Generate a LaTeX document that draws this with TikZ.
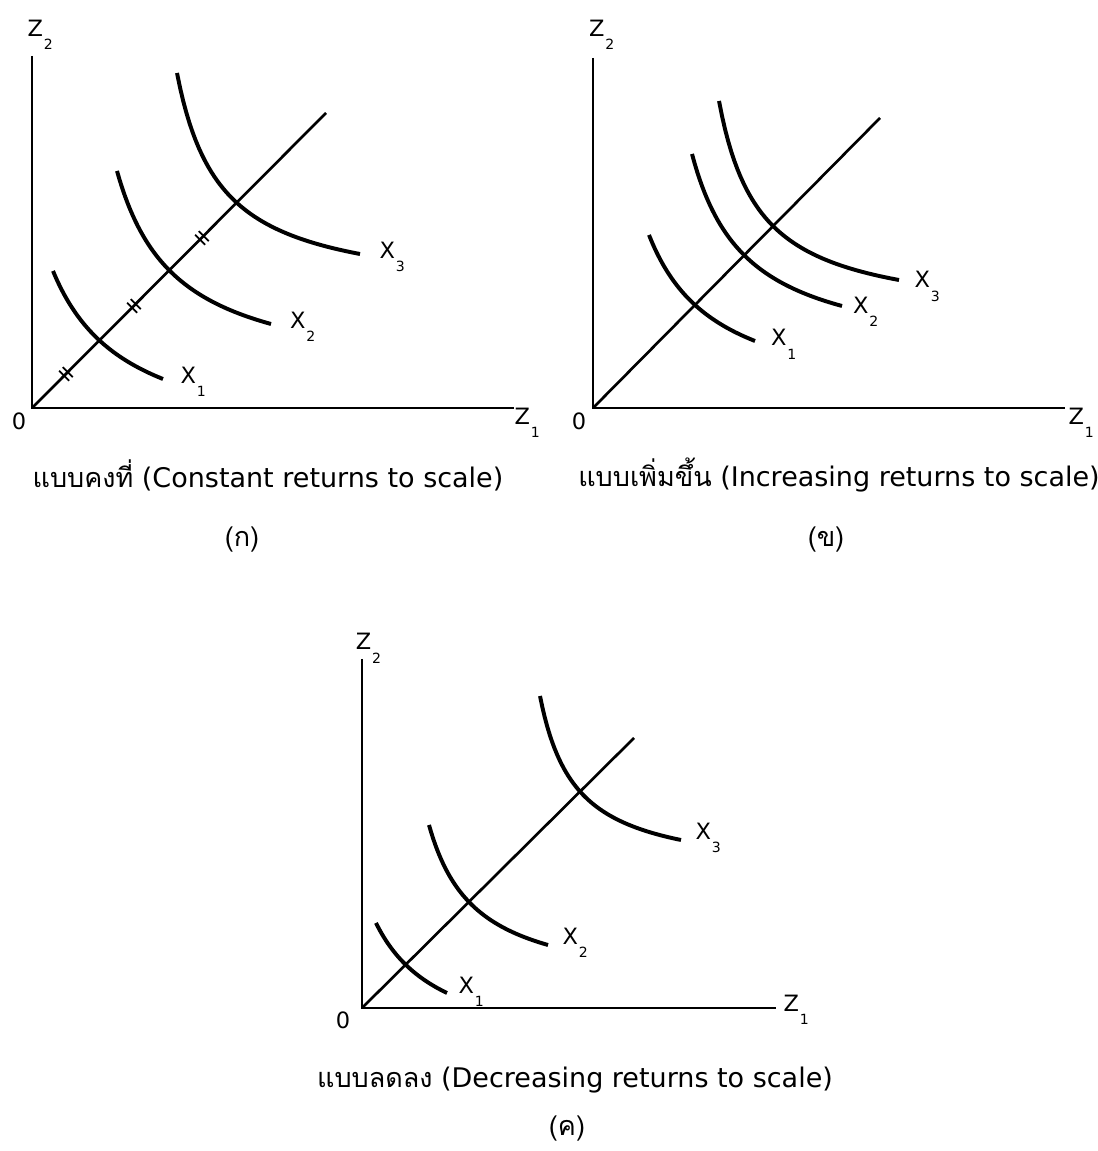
\documentclass[tikz,border=0pt]{standalone}
\usepackage{fontspec}
\setmainfont{DejaVu Sans}
\newfontfamily\thaifont[Script=Thai]{Loma}
\newcommand\lsub[1]{\hspace{0.6pt}\raisebox{-9.5pt}{\fontsize{10}{11}\selectfont #1}}
\begin{document}
\begin{tikzpicture}[x=0.25mm,y=0.25mm,
  declare function={iq(\x,\p,\q,\k)=\q+\k/((\x-\p)/100);},
  axis/.style={line width=1.3pt},
  ray/.style={line width=1.9pt},
  isoq/.style={line width=2.8pt,samples=60},
  hatch/.style={line width=1.2pt},
  lbl/.style={anchor=base west,inner sep=0pt,font=\fontsize{16}{18}\selectfont},
  zero/.style={inner sep=0pt,font=\fontsize{16}{18}\selectfont},
  captxt/.style={inner sep=0pt,font=\fontsize{19.2}{23}\selectfont}]
\useasboundingbox (0,0) rectangle (1098,1151);
% (ก) constant returns
\begin{scope}[shift={(32,743)}]
\coordinate (oa) at (0,0);
\draw[axis] (0,352) -- (oa) -- (482,0);
\coordinate (ra) at (294,295);
\draw[ray] (oa) -- (ra);
\foreach \t in {34,102,170}
  \draw[hatch] (\t-6.8,\t+3.2) -- (\t+3.2,\t-6.8) (\t-3.2,\t+6.8) -- (\t+6.8,\t-3.2);
\draw[isoq] plot[domain=21:131] (\x,{iq(\x,-54.26,-44.9,136.9)});
\draw[isoq] plot[domain=85:239] (\x,{iq(\x,25.74,25.12,125.56)});
\draw[isoq] plot[domain=145:328] (\x,{iq(\x,101.69,111.16,96.945)});
\node[lbl] (xa1) at (148.3,24.8) {X\lsub{1}};
\node[lbl] (xa2) at (257.8,79.8) {X\lsub{2}};
\node[lbl] (xa3) at (347.3,149.8) {X\lsub{3}};
\node[lbl] (za2) at (-4.7,371.8) {Z\lsub{2}};
\node[lbl] (za1) at (482.3,-16.2) {Z\lsub{1}};
\node[zero] (za0) at (-13,-13) {0};
\node[captxt] (capa) at (236,-67) {{\thaifont แบบคงที่} (Constant returns to scale)};
\node[captxt] (taga) at (210,-132) {\thaifont (ก)};
\end{scope}
% (ข) increasing returns
\begin{scope}[shift={(593,743)}]
\coordinate (ob) at (0,0);
\draw[axis] (0,350) -- (ob) -- (472,0);
\coordinate (rb) at (287,290);
\draw[ray] (ob) -- (rb);
\draw[isoq] plot[domain=56:162] (\x,{iq(\x,-13,-2,120.75)});
\draw[isoq] plot[domain=99:249] (\x,{iq(\x,44.1,46.37,113.99)});
\draw[isoq] plot[domain=126:306] (\x,{iq(\x,85.1,87.32,89.85)});
\node[lbl] (xb1) at (177.9,62.2) {X\lsub{1}};
\node[lbl] (xb2) at (259.9,94.6) {X\lsub{2}};
\node[lbl] (xb3) at (321.3,120.3) {X\lsub{3}};
\node[lbl] (zb2) at (-4.2,371.8) {Z\lsub{2}};
\node[lbl] (zb1) at (475.3,-16.2) {Z\lsub{1}};
\node[zero] (zb0) at (-14,-13) {0};
\node[captxt] (capb) at (246,-67) {{\thaifont แบบเพิ่มขึ้น} (Increasing returns to scale)};
\node[captxt] (tagb) at (233,-132) {\thaifont (ข)};
\end{scope}
% (ค) decreasing returns
\begin{scope}[shift={(362,143)}]
\coordinate (oc) at (0,0);
\draw[axis] (0,349) -- (oc) -- (414,0);
\coordinate (rc) at (272,270);
\draw[ray] (oc) -- (rc);
\draw[isoq] plot[domain=14:85] (\x,{iq(\x,-53.62,-51.67,92.42)});
\draw[isoq] plot[domain=67:186] (\x,{iq(\x,20.09,15.7,78.48)});
\draw[isoq] plot[domain=178:319] (\x,{iq(\x,142.5,131.74,63.99)});
\node[lbl] (xc1) at (96.3,14.8) {X\lsub{1}};
\node[lbl] (xc2) at (200.3,63.8) {X\lsub{2}};
\node[lbl] (xc3) at (333.3,168.8) {X\lsub{3}};
\node[lbl] (zc2) at (-6.4,358) {Z\lsub{2}};
\node[lbl] (zc1) at (421.3,-3.2) {Z\lsub{1}};
\node[zero] (zc0) at (-19,-12) {0};
\node[captxt] (capc) at (213,-72) {{\thaifont แบบลดลง} (Decreasing returns to scale)};
\node[captxt] (tagc) at (205,-121) {\thaifont (ค)};
\end{scope}
\end{tikzpicture}
\end{document}
